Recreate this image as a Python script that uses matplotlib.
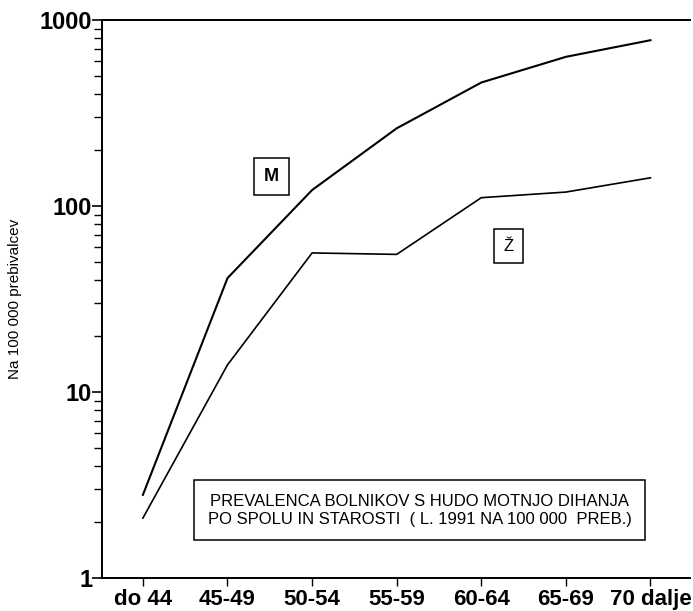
import numpy as np
import matplotlib.pyplot as plt
from matplotlib.ticker import FixedLocator, NullFormatter

plt.rcParams['font.family'] = ['Liberation Sans', 'DejaVu Sans']

# age groups and prevalence per 100 000 (1991)
groups = ['do 44', '45-49', '50-54', '55-59', '60-64', '65-69', '70 dalje']
moski = [2.8, 41, 122, 262, 462, 635, 780]
zenske = [2.1, 14, 56, 55, 111, 119, 142]

x = np.arange(len(groups))

fig = plt.figure(figsize=(6.93, 6.11), dpi=100)
ax = fig.add_axes([0.147, 0.054, 0.849, 0.913])

ax.plot(x, moski, color='black', lw=1.5)
ax.plot(x, zenske, color='black', lw=1.2)

ax.set_yscale('log')
ax.set_ylim(1, 1000)
ax.set_xlim(-0.485, 6.47)

ax.set_xticks(x)
ax.set_xticklabels(groups, fontsize=16, fontweight='bold')
ax.yaxis.set_major_locator(FixedLocator([1, 10, 100, 1000]))
ax.set_yticklabels(['1', '10', '100', '1000'], fontsize=17, fontweight='bold')
ax.yaxis.set_minor_locator(FixedLocator(
    [m * 10 ** e for e in range(3) for m in range(2, 10)]))
ax.yaxis.set_minor_formatter(NullFormatter())
ax.tick_params(axis='y', which='major', length=7, width=1.2, pad=0)
ax.tick_params(axis='y', which='minor', length=6, width=1.0)
ax.tick_params(axis='x', length=6, width=1.0, pad=2)

ax.spines['right'].set_visible(False)
for s in ['left', 'top', 'bottom']:
    ax.spines[s].set_linewidth(1.4)

ax.set_ylabel('Na 100 000 prebivalcev', fontsize=11)
ax.yaxis.set_label_coords(-0.135, 0.5)

box = dict(boxstyle='square,pad=0.55', fc='white', ec='black', lw=1.1)
ax.text(1.515, 145, 'M', fontsize=13, fontweight='bold', ha='center', va='center', bbox=box)
ax.text(4.32, 61, 'Ž', fontsize=12, ha='center', va='center', bbox=box)

ax.text(3.27, 2.32,
        'PREVALENCA BOLNIKOV S HUDO MOTNJO DIHANJA\n'
        'PO SPOLU IN STAROSTI  ( L. 1991 NA 100 000  PREB.)',
        fontsize=12, ha='center', va='center', linespacing=1.25,
        bbox=dict(boxstyle='square,pad=0.8', fc='white', ec='black', lw=1.1))

fig.savefig('out.png', dpi=100)
